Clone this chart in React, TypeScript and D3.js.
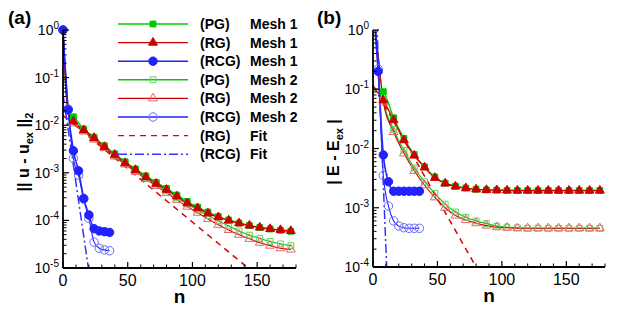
import React from 'react';
import * as d3 from 'd3';

// iteration numbers
const nPG = [0, 4, 8, 16, 24, 32, 40, 48, 56, 64, 72, 80, 88, 96, 104, 112, 120, 128, 136, 144, 152, 160, 168, 176];
const nRCG = [0, 4, 8, 12, 16, 20, 24, 28, 32, 36];

// (a) || u - u_ex ||_2
const pgMesh1A = [1, 1.9e-2, 1.5e-2, 8.3e-3, 5.6e-3, 3.7e-3, 2.5e-3, 1.7e-3, 1.2e-3, 8.6e-4, 6.3e-4, 4.7e-4, 3.4e-4, 2.5e-4, 1.9e-4, 1.5e-4, 1.2e-4, 1.02e-4, 8.8e-5, 7.8e-5, 7.1e-5, 6.6e-5, 6.2e-5, 5.9e-5];
const rgMesh1A = [1, 1.8e-2, 1.2e-2, 7.9e-3, 5.4e-3, 3.5e-3, 2.4e-3, 1.6e-3, 1.15e-3, 8.1e-4, 5.9e-4, 4.4e-4, 3.2e-4, 2.3e-4, 1.8e-4, 1.4e-4, 1.17e-4, 1.0e-4, 8.7e-5, 7.8e-5, 7.1e-5, 6.6e-5, 6.3e-5, 6.0e-5];
const pgMesh2A = [1, 1.8e-2, 1.3e-2, 7.8e-3, 5.3e-3, 3.5e-3, 2.35e-3, 1.6e-3, 1.12e-3, 8.0e-4, 5.8e-4, 4.2e-4, 3.0e-4, 2.2e-4, 1.65e-4, 1.26e-4, 9.8e-5, 7.6e-5, 6.0e-5, 4.9e-5, 4.2e-5, 3.6e-5, 3.2e-5, 2.95e-5];
const rgMesh2A = [1, 1.7e-2, 1.1e-2, 7.4e-3, 5.0e-3, 3.3e-3, 2.2e-3, 1.5e-3, 1.05e-3, 7.4e-4, 5.3e-4, 3.8e-4, 2.7e-4, 1.95e-4, 1.45e-4, 1.07e-4, 8.1e-5, 6.3e-5, 5.0e-5, 4.1e-5, 3.4e-5, 2.95e-5, 2.6e-5, 2.45e-5];
const rcgMesh1A = [1, 2.1e-2, 2.9e-3, 1.1e-3, 2.9e-4, 1.3e-4, 6.7e-5, 6.0e-5, 5.8e-5, 5.6e-5];
const rcgMesh2A = [1, 2.2e-2, 2.0e-3, 8.9e-4, 2.8e-4, 1.1e-4, 3.5e-5, 2.6e-5, 2.4e-5, 2.3e-5];
const rgFitNA = [0, 143];
const rgFitA = [1.6e-2, 1e-5];
const rcgFitNA = [0, 19.6];
const rcgFitA = [4.5e-2, 1e-5];

// (b) | E - E_ex |
const pgMesh1B = [1.05e-1, 1.0e-1, 9.1e-2, 3.3e-2, 1.48e-2, 7.9e-3, 4.9e-3, 3.3e-3, 2.6e-3, 2.3e-3, 2.15e-3, 2.05e-3, 2.0e-3, 1.98e-3, 1.96e-3, 1.95e-3, 1.95e-3, 1.95e-3, 1.95e-3, 1.95e-3, 1.95e-3, 1.95e-3, 1.95e-3, 1.95e-3];
const rgMesh1B = [1.05e-1, 8.7e-2, 6.5e-2, 3.0e-2, 1.38e-2, 7.6e-3, 4.8e-3, 3.2e-3, 2.57e-3, 2.29e-3, 2.14e-3, 2.04e-3, 2.0e-3, 1.98e-3, 1.96e-3, 1.95e-3, 1.95e-3, 1.95e-3, 1.95e-3, 1.95e-3, 1.95e-3, 1.95e-3, 1.95e-3, 1.95e-3];
const pgMesh2B = [2.5, 3.8e-1, 6.6e-2, 2.1e-2, 9.3e-3, 4.7e-3, 2.75e-3, 1.74e-3, 1.15e-3, 8.5e-4, 6.9e-4, 6.0e-4, 5.4e-4, 4.9e-4, 4.7e-4, 4.6e-4, 4.5e-4, 4.5e-4, 4.5e-4, 4.5e-4, 4.5e-4, 4.5e-4, 4.5e-4, 4.5e-4];
const rgMesh2B = [2.5, 3.8e-1, 6.0e-2, 1.9e-2, 8.3e-3, 4.2e-3, 2.4e-3, 1.5e-3, 1.0e-3, 7.4e-4, 6.2e-4, 5.5e-4, 5.0e-4, 4.7e-4, 4.6e-4, 4.5e-4, 4.5e-4, 4.5e-4, 4.5e-4, 4.5e-4, 4.5e-4, 4.5e-4, 4.5e-4, 4.5e-4];
const rcgMesh1B = [3.2, 2.0e-1, 7.8e-3, 2.75e-3, 1.9e-3, 1.9e-3, 1.9e-3, 1.9e-3, 1.9e-3, 1.9e-3];
const rcgMesh2B = [3.2, 2.2e-1, 3.5e-3, 1.07e-3, 6.0e-4, 4.9e-4, 4.6e-4, 4.5e-4, 4.5e-4, 4.5e-4];
const rgFitNB = [0, 80];
const rgFitB = [1.17e-1, 1e-4];
const rcgFitNB = [3, 10.6];
const rcgFitB = [1.3, 1e-4];

const xTicks = [0, 50, 100, 150];
const legendMethods = ['(PG)', '(RG)', '(RCG)', '(PG)', '(RG)', '(RCG)', '(RG)', '(RCG)'];
const legendCases = ['Mesh 1', 'Mesh 1', 'Mesh 1', 'Mesh 2', 'Mesh 2', 'Mesh 2', 'Fit', 'Fit'];

const FONT = '"Liberation Sans", Arial, Helvetica, sans-serif';
const GREEN = '#00c800';
const RED = '#cc0000';
const BLUE = '#2222ff';
const GREEN_L = '#5cd65c';
const RED_L = '#e26868';
const BLUE_L = '#6a6aff';

type Mk = 'square' | 'triangle' | 'circle';
const symType = { square: d3.symbolSquare, triangle: d3.symbolTriangle, circle: d3.symbolCircle };
const symSize = { square: 34, triangle: 34, circle: 56 };

function Marker({ kind, filled, color, x, y }: { kind: Mk; filled: boolean; color: string; x: number; y: number }) {
  const d = d3.symbol(symType[kind], symSize[kind])() as string;
  return (
    <path
      d={d}
      transform={`translate(${x},${y})`}
      fill={filled ? color : 'none'}
      stroke={color}
      strokeWidth={1}
    />
  );
}

function Panel(props: any) {
  const { id, left, right, top, bottom, yMin, data, fits, label, labelX, title, titleX } = props;
  const x = d3.scaleLinear().domain([0, 180]).range([left, right]);
  const y = d3.scaleLog().domain([yMin, 1]).range([bottom, top]);
  const line = d3.line<[number, number]>().x(d => x(d[0])).y(d => y(d[1])).curve(d3.curveMonotoneX);
  const straight = d3.line<[number, number]>().x(d => x(d[0])).y(d => y(d[1]));

  const e0 = Math.round(Math.log10(yMin));
  const decades = d3.range(e0, 1);
  const minors: number[] = [];
  decades.slice(0, -1).forEach(e => {
    for (let m = 2; m <= 9; m++) minors.push(m * Math.pow(10, e));
  });
  const xMinor = d3.range(0, 181, 10).filter(v => !xTicks.includes(v));

  return (
    <g>
      <defs>
        <clipPath id={`clip-${id}`}>
          <rect x={left} y={top} width={right - left} height={bottom - top} />
        </clipPath>
        <clipPath id={`clipm-${id}`}>
          <rect x={left - 6} y={top - 6} width={right - left + 12} height={bottom - top + 6} />
        </clipPath>
      </defs>
      <g clipPath={`url(#clip-${id})`}>
        {data.map((s: any, i: number) => (
          <path
            key={i}
            d={line(s.n.map((n: number, j: number) => [n, s.v[j]])) as string}
            fill="none"
            stroke={s.line}
            strokeWidth={s.w}
          />
        ))}
        {fits.map((f: any, i: number) => (
          <path
            key={i}
            d={straight(f.n.map((n: number, j: number) => [n, f.v[j]])) as string}
            fill="none"
            stroke={f.color}
            strokeWidth={1.5}
            strokeDasharray={f.dash}
          />
        ))}
      </g>
      <g clipPath={`url(#clipm-${id})`}>
        {data.map((s: any, i: number) => (
          <g key={i}>
            {s.n.map((n: number, j: number) =>
              s.every && (n === 0 || n % s.every !== 0) ? null : (
                <Marker key={j} kind={s.mk} filled={s.filled} color={s.mc} x={x(n)} y={y(s.v[j])} />
              )
            )}
          </g>
        ))}
      </g>
      {/* axes */}
      <line x1={left} x2={left} y1={top} y2={bottom} stroke="#000" strokeWidth={1.8} />
      <line x1={left} x2={right} y1={bottom} y2={bottom} stroke="#000" strokeWidth={1.8} />
      {decades.map(e => (
        <g key={e}>
          <line x1={left} x2={left + 6} y1={y(Math.pow(10, e))} y2={y(Math.pow(10, e))} stroke="#000" strokeWidth={1.2} />
          <text x={left - 4} y={y(Math.pow(10, e)) + 5} textAnchor="end" fontSize={14} fontFamily={FONT}>
            10<tspan dy={-6} fontSize={10}>{String(e)}</tspan>
          </text>
        </g>
      ))}
      {minors.map((v, i) => (
        <line key={i} x1={left} x2={left + 3.5} y1={y(v)} y2={y(v)} stroke="#000" strokeWidth={1} />
      ))}
      {xTicks.map(t => (
        <g key={t}>
          <line x1={x(t)} x2={x(t)} y1={bottom} y2={bottom - 6} stroke="#000" strokeWidth={1.2} />
          <text x={x(t)} y={bottom + 18} textAnchor="middle" fontSize={16} fontFamily={FONT}>{t}</text>
        </g>
      ))}
      {xMinor.map(t => (
        <line key={t} x1={x(t)} x2={x(t)} y1={bottom} y2={bottom - 3.5} stroke="#000" strokeWidth={1} />
      ))}
      <text x={(left + right) / 2} y={bottom + 35} textAnchor="middle" fontSize={19} fontWeight="bold" fontFamily={FONT}>n</text>
      <text x={labelX} y={24} fontSize={19} fontWeight="bold" fontFamily={FONT}>{label}</text>
      <text transform={`translate(${titleX},152) rotate(-90)`} textAnchor="middle" fontSize={16} fontWeight="bold" fontFamily={FONT}>
        {title}
      </text>
    </g>
  );
}

function styled(n: number[], v: number[], kind: Mk, line: string, mc: string, filled: boolean, w: number, every: number) {
  return { n, v, mk: kind, line, mc, filled, w, every };
}

export default function App() {
  const dataA = [
    styled(nPG, pgMesh2A, 'square', GREEN, GREEN_L, false, 1.1, 8),
    styled(nPG, rgMesh2A, 'triangle', RED, RED_L, false, 1.1, 8),
    styled(nPG, pgMesh1A, 'square', GREEN, GREEN, true, 1.3, 8),
    styled(nPG, rgMesh1A, 'triangle', RED, RED, true, 1.4, 8),
    styled(nRCG, rcgMesh2A, 'circle', BLUE, BLUE_L, false, 1.1, 0),
    styled(nRCG, rcgMesh1A, 'circle', BLUE, BLUE, true, 1.6, 0),
  ];
  const dataB = [
    styled(nPG, pgMesh2B, 'square', GREEN, GREEN_L, false, 1.1, 8),
    styled(nPG, rgMesh2B, 'triangle', RED, RED_L, false, 1.1, 8),
    styled(nPG, pgMesh1B, 'square', GREEN, GREEN, true, 1.3, 8),
    styled(nPG, rgMesh1B, 'triangle', RED, RED, true, 1.4, 8),
    styled(nRCG, rcgMesh2B, 'circle', BLUE, BLUE_L, false, 1.1, 0),
    styled(nRCG, rcgMesh1B, 'circle', BLUE, BLUE, true, 1.6, 0),
  ];
  const fitsA = [
    { n: rgFitNA, v: rgFitA, color: '#dd0000', dash: '6,5' },
    { n: rcgFitNA, v: rcgFitA, color: '#3333ff', dash: '9,3,2,3' },
  ];
  const fitsB = [
    { n: rgFitNB, v: rgFitB, color: '#dd0000', dash: '6,5' },
    { n: rcgFitNB, v: rcgFitB, color: '#3333ff', dash: '9,3,2,3' },
  ];

  const legendStyle: { line: string; mk?: Mk; mc?: string; filled?: boolean; dash?: string }[] = [
    { line: GREEN, mk: 'square', mc: GREEN, filled: true },
    { line: RED, mk: 'triangle', mc: RED, filled: true },
    { line: BLUE, mk: 'circle', mc: BLUE, filled: true },
    { line: GREEN, mk: 'square', mc: GREEN_L, filled: false },
    { line: RED, mk: 'triangle', mc: RED_L, filled: false },
    { line: BLUE, mk: 'circle', mc: BLUE_L, filled: false },
    { line: '#dd0000', dash: '6,5' },
    { line: '#3333ff', dash: '9,3,2,3' },
  ];

  const titleA = (
    <>
      || u - u<tspan dy={4} fontSize={11}>ex</tspan>
      <tspan dy={-4}> ||</tspan>
      <tspan dy={4} fontSize={11}>2</tspan>
    </>
  );
  const titleB = (
    <>
      | E - E<tspan dy={4} fontSize={11}>ex</tspan>
      <tspan dy={-4}> |</tspan>
    </>
  );

  return (
    <svg width={623} height={314} style={{ position: 'absolute', left: 0, top: 0, background: '#fff' }}>
      <Panel id="a" left={63} right={296} top={30} bottom={268} yMin={1e-5} data={dataA} fits={fitsA}
        label="(a)" labelX={8} title={titleA} titleX={29} />
      <Panel id="b" left={373} right={605} top={30} bottom={267} yMin={1e-4} data={dataB} fits={fitsB}
        label="(b)" labelX={317} title={titleB} titleX={339} />
      <g>
        {legendMethods.map((m, i) => {
          const ly = 24 + i * 18.6;
          const st = legendStyle[i];
          return (
            <g key={i}>
              <line x1={118} x2={188} y1={ly} y2={ly} stroke={st.line} strokeWidth={1.4} strokeDasharray={st.dash} />
              {st.mk && <Marker kind={st.mk} filled={!!st.filled} color={st.mc as string} x={153} y={ly} />}
              <text x={200} y={ly + 5} fontSize={14} fontWeight="bold" fontFamily={FONT}>{m}</text>
              <text x={250} y={ly + 5} fontSize={14} fontWeight="bold" fontFamily={FONT}>{legendCases[i]}</text>
            </g>
          );
        })}
      </g>
    </svg>
  );
}
